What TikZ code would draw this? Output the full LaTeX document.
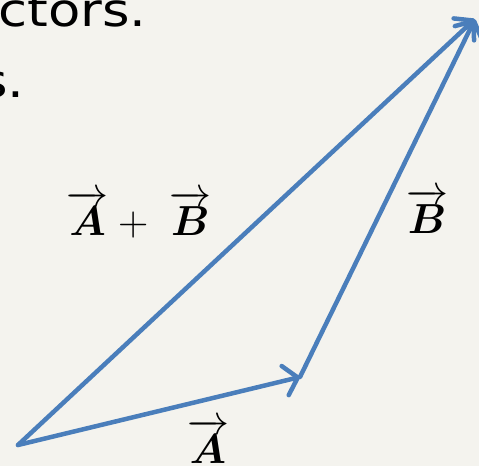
\RequirePackage{fix-cm}
\documentclass[tikz,border=0pt]{standalone}
\usepackage{amsmath}
\usepackage{fontspec}
\usetikzlibrary{arrows.meta}
\newfontfamily\dejavu[FakeStretch=1.15]{DejaVu Sans}
\definecolor{bgc}{HTML}{F4F3EE}
\definecolor{vecblue}{RGB}{74,126,187}
\tikzset{
  vec/.style={draw=vecblue, line width=4.5pt, line cap=round, line join=round,
    -{Straight Barb[length=13pt, width=30pt, line cap=round, line join=round]}},
  title/.style={inner sep=0pt, font=\dejavu\fontsize{46}{56}\selectfont},
  lab/.style={inner sep=0pt, font=\fontsize{42}{50}\selectfont}
}
\begin{document}
\begin{tikzpicture}[x=1pt, y=-1pt]
  \fill[bgc] (0,0) rectangle (479,466);
  \useasboundingbox (0,0) rectangle (479,466);
  \node[title, anchor=base west] (t1) at (-2,26) {ctors.};
  \node[title, anchor=base east] (t2) at (25,97) {s.};
  \coordinate (O) at (18,445);
  \coordinate (P) at (300,377);
  \coordinate (Q) at (475,19);
  \draw[vec] (O) -- (Q);
  \draw[vec] (O) -- (P);
  \draw[vec] (P) -- (Q);
  \node[lab, anchor=base] (lAB) at (139,235) {$\overrightarrow{\boldsymbol{A}}+\;\overrightarrow{\boldsymbol{B}}$};
  \node[lab, anchor=base] (lB) at (427,233) {$\overrightarrow{\boldsymbol{B}}$};
  \node[lab, anchor=base] (lA) at (208,463) {$\overrightarrow{\boldsymbol{A}}$};
\end{tikzpicture}
\end{document}
